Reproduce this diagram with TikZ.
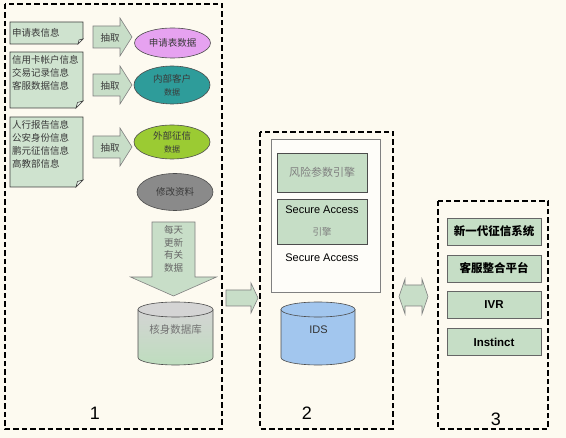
\documentclass[tikz,border=0pt]{standalone}
\usepackage{fontspec}
\setmainfont{Liberation Sans}
\newfontfamily\cjk{Noto Sans CJK SC}
\usetikzlibrary{shapes.geometric}
\definecolor{cream}{HTML}{FDFAF0}
\definecolor{ink}{HTML}{3A3A3A}
\definecolor{docgreen}{HTML}{CFE3CF}
\definecolor{arrowgreen}{HTML}{C8DEC8}
\definecolor{boxgreen}{HTML}{C6DEC6}
\definecolor{dbgreen}{HTML}{BEDDBE}
\definecolor{dbgray}{HTML}{D4D4D4}
\definecolor{violet}{HTML}{E6A2F0}
\definecolor{teal}{HTML}{2E9C9A}
\definecolor{lime}{HTML}{9BCB33}
\definecolor{stone}{HTML}{8A8A8A}
\definecolor{idsblue}{HTML}{A2C6EE}
\begin{document}
\begin{tikzpicture}[x=1pt, y=-1pt]
\tikzstyle{every node} = [inner sep=0pt, text=ink, font=\cjk\fontsize{9.5}{13}\selectfont]
\tikzstyle{frame} = [draw=black, line width=1.3pt, dash pattern=on 5.5pt off 3pt]
\tikzstyle{doc} = [draw=black!75, fill=docgreen, line width=0.6pt]
\tikzstyle{fold} = [draw=black!75, fill=docgreen!40, line width=0.6pt]
\tikzstyle{blockarrow} = [draw=black!50, fill=arrowgreen, line width=0.6pt]
\tikzstyle{blob} = [ellipse, draw=black!70, line width=0.6pt, minimum width=76pt, align=center]
\tikzstyle{engine} = [rectangle, draw=black!70, fill=boxgreen, minimum width=90pt, line width=0.6pt, align=center]
\tikzstyle{system} = [rectangle, draw=black!60, fill=boxgreen, minimum width=94pt, minimum height=27pt, line width=0.6pt, font=\cjk\bfseries\fontsize{11.5}{13}\selectfont, text=black]
\tikzstyle{digit} = [font=\fontsize{18}{20}\selectfont, text=black]
\fill[cream] (0,0) rectangle (566,438);
\draw[frame] (5,4) rectangle (222,429);
\draw[frame] (260,132) rectangle (393,429);
\draw[frame] (438,201) rectangle (548,429);
\node[digit] (n1) at (95,413) {1};
\node[digit] (n2) at (307,413) {2};
\node[digit] (n3) at (496,419) {3};
\draw[doc] (10,22) -- (83,22) -- (83,39) -- (78,44) -- (10,44) -- cycle;
\draw[fold] (83,39) -- (78,44) -- (79,40) -- cycle;
\draw[doc] (10,52) -- (83,52) -- (83,101) -- (76,108) -- (10,108) -- cycle;
\draw[fold] (83,101) -- (76,108) -- (77.5,102.5) -- cycle;
\draw[doc] (10,117) -- (83,117) -- (83,180) -- (76,187) -- (10,187) -- cycle;
\draw[fold] (83,180) -- (76,187) -- (77.5,181.5) -- cycle;
\node[anchor=west, align=left] (d1) at (12,33) {申请表信息};
\node[anchor=west, align=left] (d2) at (12,73) {信用卡帐户信息\\交易记录信息\\客服数据信息};
\node[anchor=west, align=left] (d3) at (12,144) {人行报告信息\\公安身份信息\\鹏元征信信息\\高教部信息};
\draw[blockarrow] (93,26) -- (120,26) -- (120,18) -- (132,37) -- (120,56) -- (120,48) -- (93,48) -- cycle;
\draw[blockarrow] (93,74) -- (120,74) -- (120,66) -- (132,85) -- (120,104) -- (120,96) -- (93,96) -- cycle;
\draw[blockarrow] (93,136) -- (120,136) -- (120,128) -- (132,147) -- (120,166) -- (120,158) -- (93,158) -- cycle;
\node (x1) at (110,38) {抽取};
\node (x2) at (110,86) {抽取};
\node (x3) at (110,148) {抽取};
\node[blob, fill=violet, minimum height=30pt] (e1) at (172.5,43) {申请表数据};
\node[blob, fill=teal, minimum height=38pt] (e2) at (172,85) {内部客户\\{\fontsize{8}{10}\selectfont 数据}};
\node[blob, fill=lime, minimum height=34pt] (e3) at (172,142) {外部征信\\{\fontsize{8}{10}\selectfont 数据}};
\node[blob, fill=stone, minimum height=37pt] (e4) at (175,192) {修改资料};
\draw[blockarrow] (152,222) -- (195,222) -- (195,277) -- (216.5,277) -- (173.5,296) -- (130.5,277) -- (152,277) -- cycle;
\node[align=center, text=black!60, font=\cjk\fontsize{9.5}{12.7}\selectfont] (up) at (173.5,249) {每天\\更新\\有关\\数据};
\shade[top color=dbgray, bottom color=dbgreen, middle color=dbgray!50!dbgreen] (138,309.5) -- (138,357.5) arc[start angle=180, end angle=0, x radius=37.5, y radius=7.5] -- (213,309.5) -- cycle;
\draw[draw=black!70, line width=0.6pt] (138,309.5) -- (138,357.5) arc[start angle=180, end angle=0, x radius=37.5, y radius=7.5] -- (213,309.5);
\draw[draw=black!70, fill=dbgray, line width=0.6pt] (175.5,309.5) ellipse[x radius=37.5, y radius=7.5];
\node[text=black!55, font=\cjk\fontsize{10.5}{12}\selectfont] (db) at (175.5,330) {核身数据库};
\draw[blockarrow] (226,290) -- (251,290) -- (251,283) -- (258,298) -- (251,313) -- (251,306) -- (226,306) -- cycle;
\draw[draw=black!50, fill=white!60!cream, line width=0.6pt] (271,139) rectangle (380,292);
\node[engine, minimum height=39pt, text=black!50, font=\cjk\fontsize{11}{13}\selectfont] (r1) at (322,172.5) {风险参数引擎};
\node[engine, minimum height=45pt, font=\fontsize{11}{22}\selectfont, text=black] (r2) at (322,221.5) {Secure Access\\{\cjk\fontsize{9.5}{11}\selectfont\color{black!50}引擎}};
\node[font=\fontsize{11}{13}\selectfont, text=black] (sa) at (322,258) {Secure Access};
\draw[draw=black!70, fill=idsblue, line width=0.6pt] (281,309.5) -- (281,357.5) arc[start angle=180, end angle=0, x radius=37, y radius=7.5] -- (355,309.5) -- cycle;
\draw[draw=black!70, fill=idsblue, line width=0.6pt] (318,309.5) ellipse[x radius=37, y radius=7.5];
\node[font=\fontsize{11}{13}\selectfont, text=black!80] (ids) at (318.5,330) {IDS};
\draw[blockarrow] (399,296.5) -- (405,279) -- (405,285) -- (422,285) -- (422,279) -- (428,296.5) -- (422,314) -- (422,306) -- (405,306) -- (405,314) -- cycle;
\node[system] (s1) at (494,231.5) {新一代征信系统};
\node[system] (s2) at (494,268.5) {客服整合平台};
\node[system, font=\bfseries\fontsize{11.5}{13}\selectfont] (s3) at (494,305) {IVR};
\node[system, font=\bfseries\fontsize{11.5}{13}\selectfont] (s4) at (494,342) {Instinct};
\end{tikzpicture}
\end{document}
